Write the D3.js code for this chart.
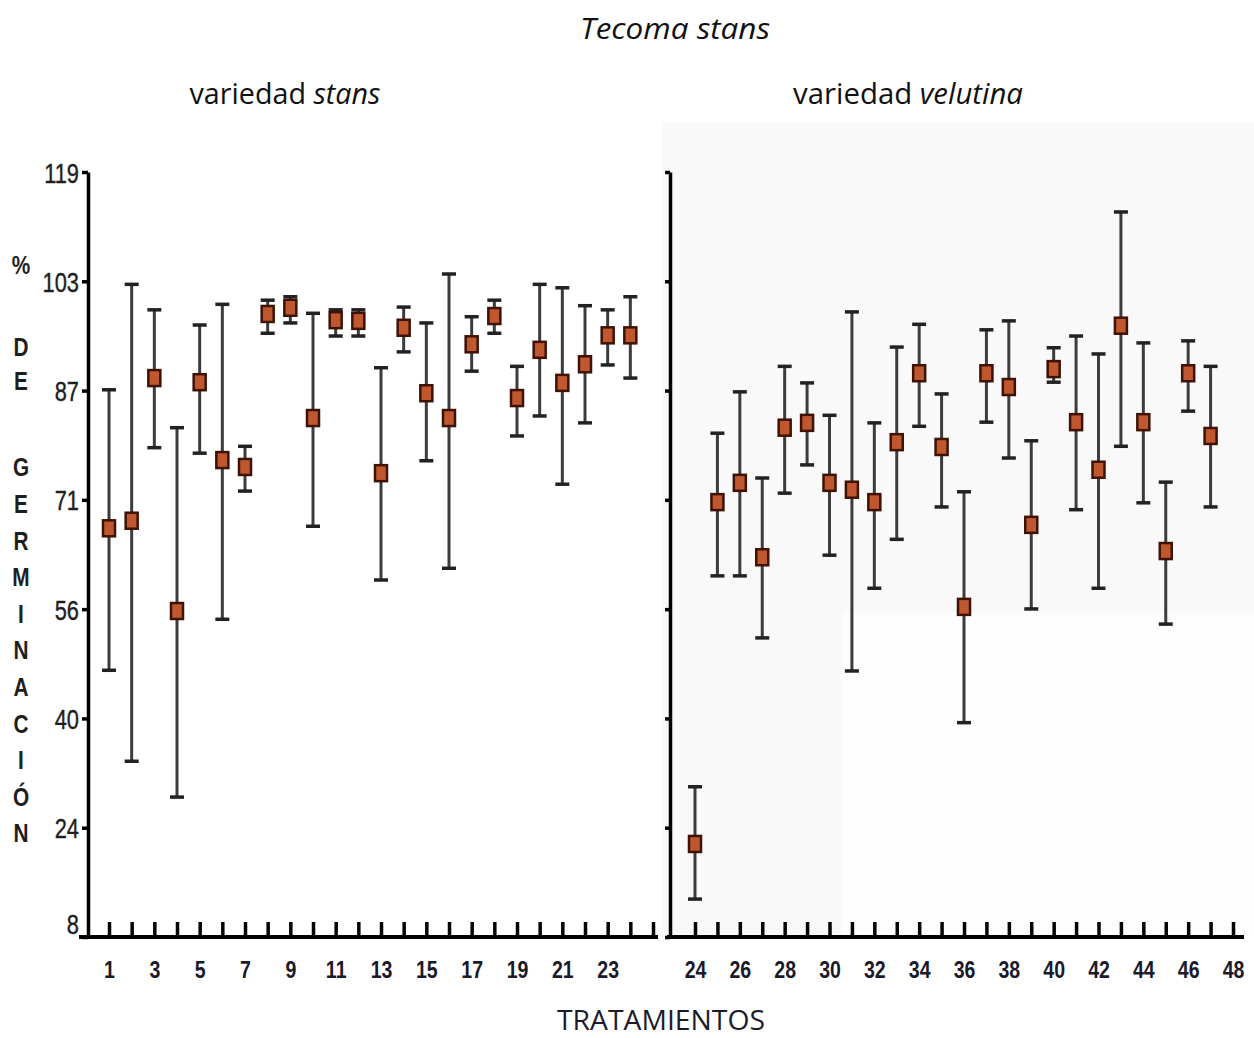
<!DOCTYPE html>
<html><head><meta charset="utf-8">
<script src="https://cdn.jsdelivr.net/npm/d3@7"></script>
<style>html,body{margin:0;padding:0;background:#fff;}svg{display:block;}</style>
</head><body>
<svg id="c" width="1254" height="1038"></svg>
<script>
// ---------- data ----------
const leftTreatments = d3.range(1, 25);
const leftMean = [67.3, 68.4, 89.1, 55.3, 88.5, 77.2, 76.2, 98.4, 99.3, 83.3, 97.5, 97.4, 75.3, 96.4, 86.9, 83.3, 94.0, 98.1, 86.2, 93.2, 88.4, 91.1, 95.3, 95.3];
const leftHigh = [87.4, 102.7, 99.0, 81.9, 96.8, 99.8, 79.2, 100.4, 100.9, 98.5, 99.0, 99.0, 90.6, 99.4, 97.1, 104.2, 98.0, 100.4, 90.8, 102.7, 102.2, 99.6, 99.0, 100.9];
const leftLow  = [46.7, 33.5, 79.0, 28.3, 78.2, 54.1, 72.7, 95.6, 97.1, 67.6, 95.2, 95.2, 59.8, 92.9, 77.1, 61.5, 90.1, 95.6, 80.7, 83.6, 73.7, 82.6, 91.0, 89.1];

const rightTreatments = d3.range(24, 48);
const rightMean = [21.5, 71.1, 73.9, 63.1, 81.9, 82.6, 73.9, 72.9, 71.1, 79.8, 89.8, 79.1, 55.9, 89.8, 87.8, 67.8, 90.4, 82.7, 75.8, 96.7, 82.7, 64.0, 89.8, 80.7];
const rightHigh = [29.8, 81.1, 87.1, 74.6, 90.8, 88.4, 83.7, 98.7, 82.6, 93.6, 96.9, 86.8, 72.6, 96.1, 97.4, 80.0, 93.5, 95.2, 92.6, 113.2, 94.2, 74.0, 94.5, 90.8];
const rightLow  = [13.5, 60.4, 60.4, 51.4, 72.4, 76.5, 63.4, 46.6, 58.6, 65.7, 82.1, 70.4, 39.1, 82.7, 77.5, 55.6, 88.5, 70.0, 58.6, 79.2, 71.0, 53.4, 84.3, 70.4];

const yTickValues = d3.range(0, 8).map(i => 8 + i * 111 / 7);
const leftXTicks = d3.range(1, 26);
const rightXTicks = d3.range(24, 49);
const leftXLabels = [1, 3, 5, 7, 9, 11, 13, 15, 17, 19, 21, 23];
const rightXLabels = [24, 26, 28, 30, 32, 34, 36, 38, 40, 42, 44, 46, 48];

const title = "Tecoma stans";
const panelTitles = [["variedad ", "stans"], ["variedad ", "velutina"]];
const xTitle = "TRATAMIENTOS";
const yTitleLetters = ["%", "D", "E", "G", "E", "R", "M", "I", "N", "A", "C", "I", "Ó", "N"];

// ---------- drawing ----------
const svg = d3.select("#c");
const y = d3.scaleLinear().domain([8, 119]).range([937, 172]);
const xL = d3.scaleLinear().domain([1, 25]).range([109, 653]);
const xR = d3.scaleLinear().domain([24, 48]).range([695, 1233]);

// very faint background of right panel
svg.append("rect").attr("x", 662).attr("y", 122).attr("width", 592).attr("height", 815).attr("fill", "#f9f9f9");
svg.append("rect").attr("x", 842).attr("y", 612).attr("width", 412).attr("height", 325).attr("fill", "#fdfdfd");

function fit(sel, w) {
  const node = sel.node();
  const len = node.getComputedTextLength();
  const x = +sel.attr("x"), yy = +sel.attr("y");
  const s = w / len;
  sel.attr("x", 0).attr("y", 0)
     .attr("transform", `translate(${x},${yy}) scale(${s},1)`);
}

// titles
const t = svg.append("text").attr("x", 675).attr("y", 39).attr("text-anchor", "middle")
  .attr("font-family", "Open Sans, sans-serif").attr("font-style", "italic").attr("font-size", 30)
  .attr("fill", "#111").text(title);
fit(t, 190);

[[285, 191], [908, 230]].forEach(([cx, w], i) => {
  const tt = svg.append("text").attr("x", cx).attr("y", 104).attr("text-anchor", "middle")
    .attr("font-family", "Open Sans, sans-serif").attr("font-size", 30).attr("fill", "#111");
  tt.append("tspan").text(panelTitles[i][0]);
  tt.append("tspan").attr("font-style", "italic").text(panelTitles[i][1]);
  fit(tt, w);
});

const xt = svg.append("text").attr("x", 661).attr("y", 1030).attr("text-anchor", "middle")
  .attr("font-family", "Open Sans, sans-serif").attr("font-size", 27).attr("fill", "#1b1b2b").text(xTitle);
fit(xt, 208);

// y title letters stacked
const letterY = [265, 347, 381].concat(d3.range(0, 11).map(i => 467 + i * 36.6));
yTitleLetters.forEach((ch, i) => {
  svg.append("text").attr("x", 21).attr("y", letterY[i]).attr("dy", "0.36em").attr("text-anchor", "middle")
    .attr("font-family", "Liberation Sans, Arial, sans-serif").attr("font-weight", "bold")
    .attr("font-size", 26).attr("fill", "#1e1e1e").attr("transform", `translate(21,0) scale(0.8,1) translate(-21,0)`)
    .text(ch);
});

function styleAxis(g) {
  g.selectAll("path.domain").attr("stroke", "#000").attr("stroke-width", 3.5);
  g.selectAll(".tick line").attr("stroke", "#000").attr("stroke-width", 3.5);
}

// left y axis with labels
const gyL = svg.append("g").attr("transform", "translate(88,0)")
  .call(d3.axisLeft(y).tickValues(yTickValues).tickFormat(d3.format(".0f")).tickSizeInner(6).tickSizeOuter(0).tickPadding(4));
styleAxis(gyL);
gyL.selectAll(".tick text").each(function(d) {
  const s = d3.select(this);
  const off = d === 8 ? -14 : 0;
  s.attr("x", 0).attr("dy", "0.36em").attr("font-family", "Liberation Sans, Arial, sans-serif")
   .attr("font-size", 28).attr("fill", "#1e1e1e").attr("text-anchor", "end")
   .attr("stroke", "#1e1e1e").attr("stroke-width", 0.4)
   .attr("transform", `translate(-9,${off}) scale(0.78,1)`);
});

// right y axis without labels
const gyR = svg.append("g").attr("transform", "translate(670,0)")
  .call(d3.axisLeft(y).tickValues(yTickValues).tickFormat("").tickSizeInner(5).tickSizeOuter(0));
styleAxis(gyR);

// x axes
function xAxis(scale, ticks, labels, x0, x1) {
  const g = svg.append("g").attr("transform", "translate(0,937)")
    .call(d3.axisBottom(scale).tickValues(ticks)
      .tickFormat(d => labels.includes(d) ? String(d) : "")
      .tickSizeInner(-15).tickSizeOuter(0).tickPadding(25));
  g.select("path.domain").remove();
  g.append("line").attr("x1", x0).attr("x2", x1).attr("y1", 0).attr("y2", 0)
    .attr("stroke", "#000").attr("stroke-width", 4);
  g.selectAll(".tick line").attr("stroke", "#000").attr("stroke-width", 3.5);
  g.selectAll(".tick text").attr("font-family", "Liberation Sans, Arial, sans-serif").attr("font-weight", "bold")
    .attr("font-size", 23).attr("fill", "#1a1a2a").attr("transform", "scale(0.85,1)");
  return g;
}
xAxis(xL, leftXTicks, leftXLabels, 79, 658);
xAxis(xR, rightXTicks, rightXLabels, 667, 1244);

// error bars + markers
function series(scale, xs, mean, hi, lo) {
  const data = xs.map((d, i) => ({ x: d, m: mean[i], h: hi[i], l: lo[i] }));
  const g = svg.append("g");
  const e = g.selectAll("g.e").data(data).join("g").attr("class", "e");
  e.append("line").attr("x1", d => scale(d.x)).attr("x2", d => scale(d.x))
    .attr("y1", d => y(d.h)).attr("y2", d => y(d.l)).attr("stroke", "#3c3c3c").attr("stroke-width", 3);
  ["h", "l"].forEach(k => {
    e.append("line").attr("x1", d => scale(d.x) - 7).attr("x2", d => scale(d.x) + 7)
      .attr("y1", d => y(d[k])).attr("y2", d => y(d[k])).attr("stroke", "#222").attr("stroke-width", 3.5);
  });
  e.append("rect").attr("x", d => scale(d.x) - 6).attr("y", d => y(d.m) - 8)
    .attr("width", 12).attr("height", 16).attr("fill", "#c0582f").attr("stroke", "#3e1204").attr("stroke-width", 2.5);
}
series(xL, leftTreatments, leftMean, leftHigh, leftLow);
series(xR, rightTreatments, rightMean, rightHigh, rightLow);
</script>
</body></html>
